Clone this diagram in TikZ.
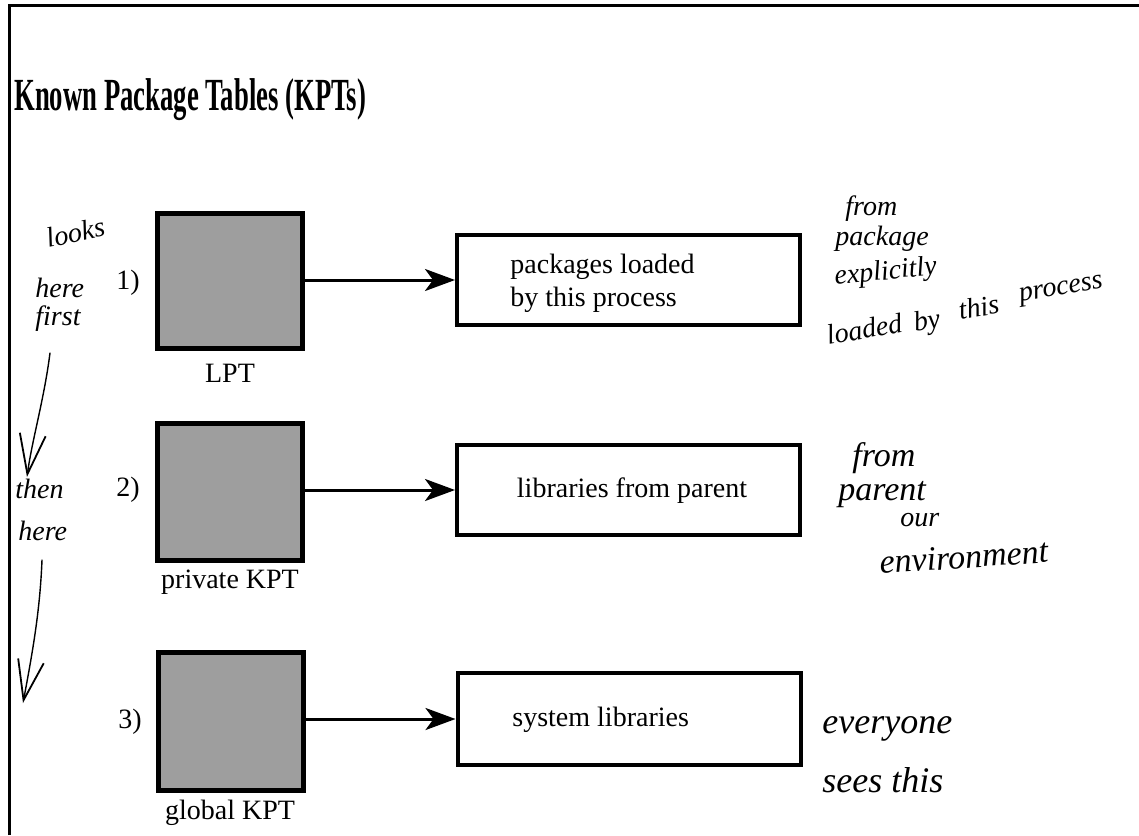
\documentclass[tikz,border=0pt]{standalone}
\usepackage{fontspec}
\setmainfont{Liberation Serif}
\usetikzlibrary{arrows.meta}
\tikzset{
  kpt/.style={draw, line width=2.5pt, fill=black!38, inner sep=0pt},
  tbox/.style={draw, line width=2pt, fill=white, inner sep=0pt, minimum width=171.5pt, minimum height=45pt},
  arr/.style={line width=1.5pt, -{Stealth[length=15pt,width=11pt,inset=4pt]}},
  lbl/.style={font=\fontsize{14}{16}\selectfont, inner sep=0pt},
  btxt/.style={font=\fontsize{14}{16.5}\selectfont, inner sep=0pt, align=left},
  hand/.style={font=\fontsize{14}{16}\selectfont\itshape, inner sep=0pt, anchor=base west},
  bighand/.style={hand, font=\fontsize{17}{19}\selectfont\itshape},
  stroke/.style={line width=0.7pt, line cap=round, line join=round},
  barb/.style={stroke, -{Straight Barb[length=20pt,width=13pt,line width=0.9pt]}}
}
\begin{document}
\begin{tikzpicture}[x=0.5pt,y=-0.5pt]
\useasboundingbox (0,0) rectangle (1139,835);
\fill[white] (0,0) rectangle (1139,835);
% frame
\draw[line width=1.5pt] (9,835) -- (9,5) -- (1139,5);
% title
\node[anchor=base west, inner sep=0pt] (title) at (14,110)
  {\scalebox{0.58}[1]{\fontsize{23}{26}\selectfont\bfseries Known Package Tables (KPTs)}};
% tables
\node[kpt, minimum width=72.5pt, minimum height=67.5pt] (s1) at (229.5,280.5) {};
\node[kpt, minimum width=72.5pt, minimum height=68.5pt] (s2) at (229.5,491.5) {};
\node[kpt, minimum width=72.5pt, minimum height=69pt] (s3) at (230.5,721) {};
\node[lbl] (l1) at (230,373) {LPT};
\node[lbl] (l2) at (230,582) {private KPT};
\node[lbl] (l3) at (230,813) {global KPT};
\node[lbl] (n1) at (128,283) {1)};
\node[lbl] (n2) at (128,490) {2)};
\node[lbl] (n3) at (130,722) {3)};
% boxes
\node[tbox] (b1) at (628.5,280) {};
\node[tbox] (b2) at (628.5,490) {};
\node[tbox, minimum height=46pt] (b3) at (629,719) {};
\node[btxt, anchor=west] (t1) at (510,283) {packages loaded\\by this process};
\node[btxt] (t2) at (632,491) {libraries from parent};
\node[btxt, anchor=west] (t3) at (512,720) {system libraries};
% arrows
\draw[arr] (s1.east |- b1.west) -- (b1.west);
\draw[arr] (s2.east |- b2.west) -- (b2.west);
\draw[arr] (s3.east |- b3.west) -- (b3.west);
% handwritten notes, left
\node[hand, rotate=12] (h1) at (48,248) {looks};
\node[hand] (h2) at (35,297) {here};
\node[hand] (h3) at (35,325) {first};
\coordinate (c1a) at (50,353);
\coordinate (c1b) at (27,477);
\draw[barb] (c1a) .. controls (44,400) and (32,440) .. (c1b);
\node[hand] (h4) at (15,498) {then};
\node[hand] (h5) at (18,540) {here};
\coordinate (c2a) at (42,560);
\coordinate (c2b) at (23,703);
\draw[barb] (c2a) .. controls (40,610) and (33,650) .. (c2b);
% handwritten notes, right
\node[hand] (r1) at (845,215) {from};
\node[hand] (r2) at (835,245) {package};
\node[hand, rotate=6] (r3) at (835,285) {explicitly};
\node[hand, rotate=10] (r4a) at (828,345) {loaded};
\node[hand, rotate=10] (r4b) at (915,332) {by};
\node[hand, rotate=10] (r4c) at (960,320) {this};
\node[hand, rotate=10] (r4d) at (1020,302) {process};
\node[bighand] (r5) at (852,466) {from};
\node[bighand] (r6) at (838,500) {parent};
\node[hand] (r7) at (900,526) {our};
\node[bighand, rotate=4] (r8) at (880,574) {environment};
\node[bighand, font=\fontsize{18}{20}\selectfont\itshape] (r9) at (822,733) {everyone};
\node[bighand, font=\fontsize{18}{20}\selectfont\itshape] (r10) at (822,792) {sees this};
\end{tikzpicture}
\end{document}
